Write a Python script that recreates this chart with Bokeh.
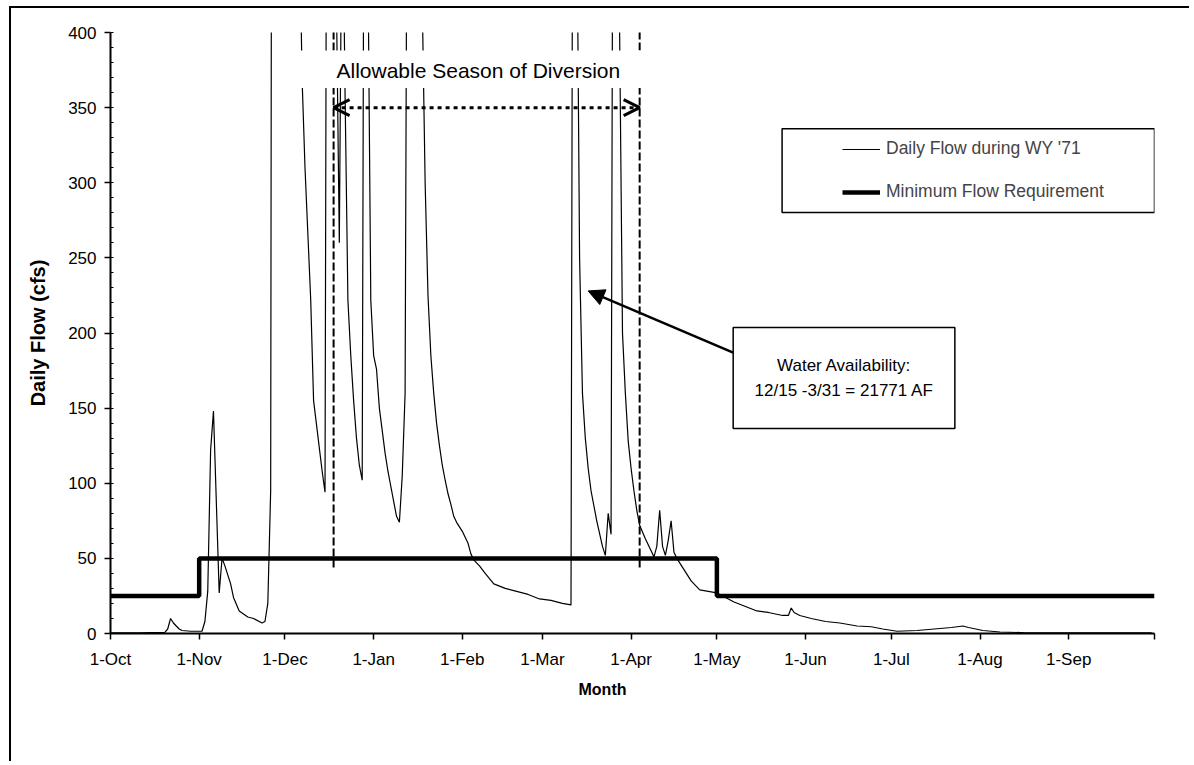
from bokeh.plotting import figure
from bokeh.models import (FixedTicker, Label, BoxAnnotation, Arrow, OpenHead,
                          NormalHead, Legend, LegendItem, Title)
from bokeh.embed import file_html
from bokeh.resources import INLINE

FONT = "Liberation Sans"

# ---- data (day of water year 1970-71, counted from 1-Oct) ----
month_tick_days = [0, 31, 61, 92, 123, 151, 182, 212, 243, 273, 304, 335, 365]
month_tick_labels = ["1-Oct", "1-Nov", "1-Dec", "1-Jan", "1-Feb", "1-Mar", "1-Apr",
                     "1-May", "1-Jun", "1-Jul", "1-Aug", "1-Sep", ""]

flow_day = [0, 10, 19, 20, 21, 22, 23, 24, 25, 28, 32, 33, 34, 35, 36, 38, 39, 40, 42, 43,
            45, 48, 50, 53, 54, 55, 56, 57, 60, 63, 66, 67, 68, 70, 71, 74, 75, 76, 77, 78,
            79, 80, 81, 82, 83, 84, 85, 86, 87, 88, 89, 90, 91, 92, 93, 94, 95, 96, 97, 98,
            99, 100, 101, 102, 103, 104, 106, 108, 109, 110, 111, 112, 113, 114, 115, 116,
            117, 118, 119, 120, 121, 123, 124, 125, 126, 127, 129, 131, 134, 138, 142, 146,
            150, 154, 158, 161, 162, 163, 164, 165, 166, 167, 168, 170, 172, 173, 174, 175,
            176, 177, 178, 179, 180, 181, 182, 183, 184, 185, 187, 189, 190, 191, 192, 193,
            194, 195, 196, 197, 198, 200, 203, 206, 209, 212, 215, 218, 222, 226, 230, 235,
            237, 238, 239, 241, 245, 250, 255, 261, 266, 270, 275, 282, 288, 294, 298, 300,
            305, 311, 320, 364]
flow_cfs = [0.5, 0.5, 0.8, 3, 10, 7, 5, 3, 2, 1.5, 1.5, 8, 28, 122, 148, 27, 50, 45, 33, 24,
            15, 11, 10, 7, 8, 20, 95, 1500, 2500, 1200, 480, 368, 310, 222, 155, 108, 94, 900, 1400, 700,
            420, 260, 520, 360, 222, 185, 155, 130, 112, 102, 800, 450, 222, 185, 176, 150, 135, 120, 108, 98,
            88, 78, 74, 105, 160, 700, 1500, 900, 420, 300, 225, 185, 160, 140, 125, 112,
            102, 93, 86, 78, 74, 68, 64, 60, 53, 49, 45, 40, 33, 30, 28, 26,
            23, 22, 20, 19, 900, 500, 250, 160, 130, 110, 95, 75, 58, 52, 80, 66,
            800, 1000, 400, 200, 160, 128, 110, 95, 82, 72, 63, 55, 51, 58, 82, 58,
            52, 62, 75, 54, 50, 44, 35, 29, 28, 27, 24, 21, 18, 15, 14, 12,
            12, 17, 14, 12, 10, 8, 7, 5, 4.5, 3, 1.5, 2, 3, 4, 5, 4,
            2, 1, 0.5, 0.5]

min_flow_day = [0, 31, 212, 365]
min_flow_cfs = [25, 50, 25, 25]

season_start_day = 78
season_end_day = 185

# ---- figure ----
p = figure(width=1180, height=755, x_range=(0, 365), y_range=(0, 400),
           output_backend="svg", toolbar_location=None,
           min_border_left=99, min_border_right=37, min_border_top=24, min_border_bottom=130)
p.styles = {"border-top": "2px solid black", "border-left": "2px solid black",
            "margin-left": "9px", "margin-top": "6px"}
p.outline_line_color = None
p.xgrid.visible = False
p.ygrid.visible = False
p.background_fill_color = "white"

p.xaxis.ticker = FixedTicker(ticks=month_tick_days, minor_ticks=[])
p.xaxis.major_label_overrides = {d: l for d, l in zip(month_tick_days, month_tick_labels)}
p.yaxis.ticker = FixedTicker(ticks=list(range(0, 401, 50)), minor_ticks=list(range(0, 401, 10)))

for ax in (p.xaxis, p.yaxis):
    ax.axis_line_width = 2
    ax.axis_line_color = "black"
    ax.major_tick_line_color = "black"
    ax.major_tick_line_width = 1.5
    ax.major_tick_out = 6
    ax.major_tick_in = 0
    ax.major_label_text_font = FONT
    ax.major_label_text_font_size = "17px"
    ax.major_label_text_color = "black"
    ax.axis_label_text_font = FONT
    ax.axis_label_text_font_style = "bold"
    ax.axis_label_text_font_size = "20px"
    ax.axis_label_text_color = "black"

p.xaxis.major_label_standoff = 10
p.yaxis.major_label_standoff = 8
p.yaxis.minor_tick_in = 3
p.yaxis.minor_tick_out = 0
p.yaxis.minor_tick_line_color = "black"
p.yaxis.axis_label = "Daily Flow (cfs)"
p.yaxis.axis_label_standoff = 16

# x axis title (placed left of centre, as in the original)
p.add_layout(Title(text="Month", align="left", offset=468, standoff=14,
                   text_font=FONT, text_font_size="16px", text_font_style="bold",
                   text_color="black"), "below")

# ---- series ----
flow_r = p.line(flow_day, flow_cfs, line_color="black", line_width=1.2)
min_r = p.step(min_flow_day, min_flow_cfs, mode="after", line_color="black", line_width=4.5)

# season boundaries (dashed)
p.segment(x0=[season_start_day, season_end_day], y0=[44, 44],
          x1=[season_start_day, season_end_day], y1=[410, 410],
          line_color="black", line_width=2, line_dash="8 3")

# white box behind the season title
p.add_layout(BoxAnnotation(left=63, right=187, top=388, bottom=363,
                           fill_color="white", fill_alpha=1, line_alpha=0))
p.add_layout(Label(x=128.6, y=375, text="Allowable Season of Diversion",
                   text_align="center", text_baseline="middle",
                   text_font=FONT, text_font_size="21px", text_color="black"))

# double-headed dotted arrow
p.add_layout(Arrow(start=OpenHead(size=16, line_width=3, line_color="black"),
                   end=OpenHead(size=16, line_width=3, line_color="black"),
                   x_start=season_start_day, y_start=350, x_end=season_end_day, y_end=350,
                   line_width=3, line_dash="4 4", line_color="black"))

# annotation box + pointer
p.add_layout(Arrow(end=NormalHead(size=16, fill_color="black", line_color="black"),
                   x_start=217.7, y_start=187, x_end=167, y_end=228,
                   line_width=2.5, line_color="black"))
p.add_layout(BoxAnnotation(left=217.7, right=295.2, bottom=136.4, top=203.7,
                           fill_color="white", fill_alpha=1,
                           line_color="black", line_width=1.5, line_alpha=1))
p.add_layout(Label(x=256.5, y=170, text="Water Availability:\n12/15 -3/31 = 21771 AF",
                   text_align="center", text_baseline="middle", text_line_height=1.35,
                   text_font=FONT, text_font_size="17px", text_color="black"))

# legend box + legend
p.add_layout(BoxAnnotation(left=234.8, right=365, top=336, bottom=280.2,
                           fill_color="white", fill_alpha=1,
                           line_color="black", line_width=1.5, line_alpha=1))
legend = Legend(items=[LegendItem(label="Daily Flow during WY '71", renderers=[flow_r]),
                       LegendItem(label="Minimum Flow Requirement", renderers=[min_r])],
                location=(732, 431), padding=0, margin=0, spacing=22,
                glyph_width=38, glyph_height=20, label_height=20, label_standoff=6,
                border_line_alpha=0, background_fill_alpha=0,
                label_text_font=FONT, label_text_font_size="17.5px")
p.add_layout(legend)

open("out.html", "w").write(file_html(p, INLINE))
